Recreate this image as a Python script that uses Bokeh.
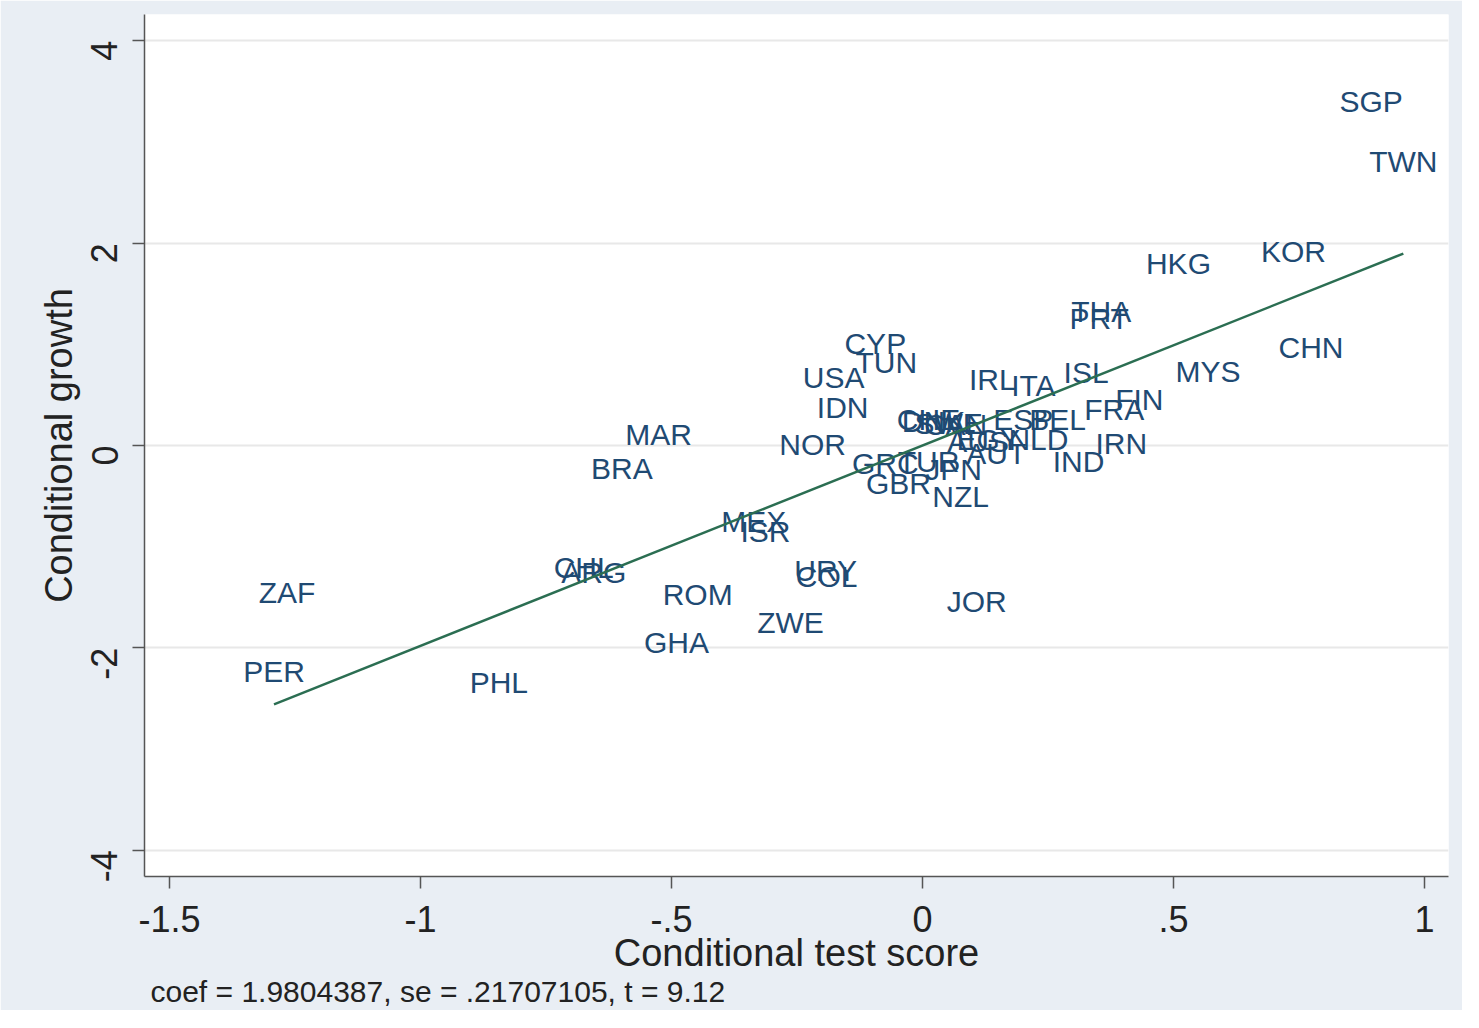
import math
from bokeh.plotting import figure
from bokeh.models import ColumnDataSource, Range1d, FixedTicker, Title, CustomJSTickFormatter
from bokeh.embed import file_html
from bokeh.resources import INLINE
from bokeh.core.properties import value

countries = ["SGP", "TWN", "KOR", "HKG", "CHN", "MYS", "THA", "PRT", "ISL", "FIN",
             "FRA", "IRN", "IND", "IRL", "ITA", "ESP", "BEL", "NLD", "CHE", "DNK",
             "SWE", "CAN", "AUS", "EGY", "AUT", "GRC", "TUR", "JPN", "GBR", "NZL",
             "CYP", "TUN", "USA", "IDN", "NOR", "MAR", "BRA", "MEX", "ISR", "CHL",
             "ARG", "URY", "COL", "ROM", "ZWE", "GHA", "JOR", "ZAF", "PER", "PHL"]
test_score = [0.894, 0.958, 0.739, 0.510, 0.774, 0.569, 0.356, 0.352, 0.326, 0.432,
              0.382, 0.396, 0.311, 0.139, 0.221, 0.201, 0.269, 0.231, 0.012, 0.022,
              0.052, 0.066, 0.111, 0.131, 0.147, -0.074, 0.012, 0.062, -0.048, 0.076,
              -0.094, -0.072, -0.177, -0.159, -0.219, -0.526, -0.599, -0.336, -0.313, -0.675,
              -0.655, -0.193, -0.191, -0.448, -0.263, -0.490, 0.108, -1.266, -1.292, -0.844]
growth = [3.40, 2.81, 1.92, 1.80, 0.97, 0.73, 1.32, 1.26, 0.72, 0.45,
          0.36, 0.02, -0.16, 0.65, 0.59, 0.26, 0.26, 0.06, 0.257, 0.237,
          0.217, 0.207, 0.04, 0.06, -0.08, -0.18, -0.16, -0.24, -0.375, -0.50,
          1.01, 0.82, 0.67, 0.375, 0.01, 0.11, -0.23, -0.75, -0.85, -1.21,
          -1.26, -1.24, -1.29, -1.47, -1.75, -1.95, -1.54, -1.45, -2.23, -2.34]
coef = 1.9804387
note = "coef = 1.9804387, se = .21707105, t = 9.12"
x_title = "Conditional test score"
y_title = "Conditional growth"
x_ticks = [-1.5, -1, -0.5, 0, 0.5, 1]
y_ticks = [-4, -2, 0, 2, 4]

FONT = "Liberation Sans"
LABEL_COLOR = "#1f4a73"
LINE_COLOR = "#2b6e52"
BG = "#e9eef4"

p = figure(width=1462, height=1010, output_backend="svg", toolbar_location=None,
           x_range=Range1d(-1.55, 1.048), y_range=Range1d(-4.26, 4.26),
           min_border_left=144, min_border_right=14, min_border_top=14, min_border_bottom=134)
p.border_fill_color = BG
p.background_fill_color = "white"
p.outline_line_color = None

src = ColumnDataSource(dict(x=test_score, y=growth, name=countries))
p.text(x="x", y="y", text="name", source=src, text_align="center", text_baseline="middle",
       text_font=value(FONT), text_font_size="30px", text_color=LABEL_COLOR)

x0, x1 = min(test_score), max(test_score)
p.line(x=[x0, x1], y=[coef * x0, coef * x1], line_color=LINE_COLOR, line_width=2.5)

tick_fmt = CustomJSTickFormatter(code="""
var s = String(Math.round(tick*1000)/1000);
return s.replace(/^(-?)0\\./, '$1.');
""")

for ax in (p.xaxis[0], p.yaxis[0]):
    ax.axis_line_color = "#555555"
    ax.axis_line_width = 1.5
    ax.major_tick_line_color = "#555555"
    ax.major_tick_line_width = 1.5
    ax.major_tick_out = 12
    ax.major_tick_in = 0
    ax.minor_tick_line_color = None
    ax.major_label_text_font = FONT
    ax.major_label_text_font_size = "36px"
    ax.major_label_text_color = "#222222"
    ax.axis_label_text_font = FONT
    ax.axis_label_text_font_size = "38px"
    ax.axis_label_text_font_style = "normal"
    ax.axis_label_text_color = "#222222"
    ax.formatter = tick_fmt

p.xaxis[0].ticker = FixedTicker(ticks=x_ticks)
p.yaxis[0].ticker = FixedTicker(ticks=y_ticks)
p.xaxis[0].axis_label = x_title
p.yaxis[0].axis_label = y_title
p.yaxis[0].major_label_orientation = math.pi / 2
p.xaxis[0].major_label_standoff = 17
p.yaxis[0].major_label_standoff = 28
p.xaxis[0].axis_label_standoff = -3
p.yaxis[0].axis_label_standoff = -4

p.xgrid.visible = False
p.ygrid.ticker = FixedTicker(ticks=y_ticks)
p.ygrid.grid_line_color = "#e8e8e8"
p.ygrid.grid_line_width = 2

p.add_layout(Title(text=note, align="left", offset=6, text_font=FONT, text_font_size="30px",
                   text_font_style="normal", text_color="#222222", standoff=-7), "below")

open("out.html", "w").write(file_html(p, INLINE))
